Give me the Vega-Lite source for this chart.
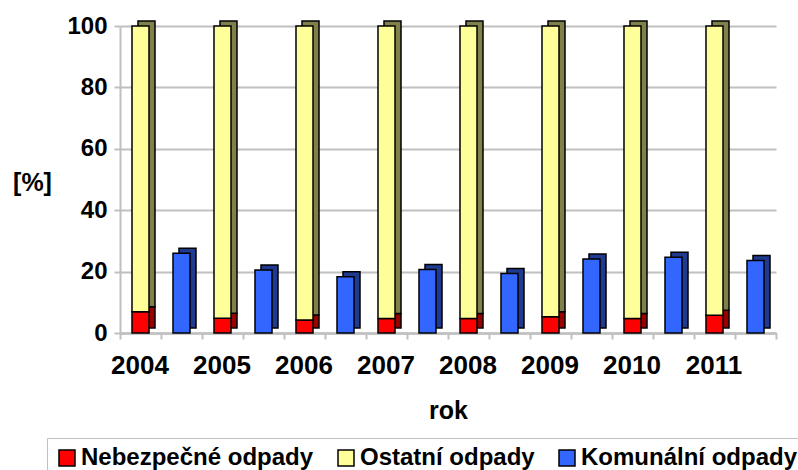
{
  "$schema": "https://vega.github.io/schema/vega-lite/v6.json",
  "width": 656,
  "height": 307,
  "autosize": "none",
  "padding": {"left": 120, "top": 26, "right": 22, "bottom": 137},
  "config": {"font": "Liberation Sans", "view": {"stroke": null}},
  "data": {
    "values": [
      {"rok": "2004", "kategorie": "Nebezpečné odpady", "sloupec": "celkem", "hodnota": 6.9},
      {"rok": "2004", "kategorie": "Ostatní odpady", "sloupec": "celkem", "hodnota": 93.1},
      {"rok": "2004", "kategorie": "Komunální odpady", "sloupec": "komunální", "hodnota": 26.0},
      {"rok": "2005", "kategorie": "Nebezpečné odpady", "sloupec": "celkem", "hodnota": 4.8},
      {"rok": "2005", "kategorie": "Ostatní odpady", "sloupec": "celkem", "hodnota": 95.2},
      {"rok": "2005", "kategorie": "Komunální odpady", "sloupec": "komunální", "hodnota": 20.5},
      {"rok": "2006", "kategorie": "Nebezpečné odpady", "sloupec": "celkem", "hodnota": 4.2},
      {"rok": "2006", "kategorie": "Ostatní odpady", "sloupec": "celkem", "hodnota": 95.8},
      {"rok": "2006", "kategorie": "Komunální odpady", "sloupec": "komunální", "hodnota": 18.3},
      {"rok": "2007", "kategorie": "Nebezpečné odpady", "sloupec": "celkem", "hodnota": 4.7},
      {"rok": "2007", "kategorie": "Ostatní odpady", "sloupec": "celkem", "hodnota": 95.3},
      {"rok": "2007", "kategorie": "Komunální odpady", "sloupec": "komunální", "hodnota": 20.7},
      {"rok": "2008", "kategorie": "Nebezpečné odpady", "sloupec": "celkem", "hodnota": 4.7},
      {"rok": "2008", "kategorie": "Ostatní odpady", "sloupec": "celkem", "hodnota": 95.3},
      {"rok": "2008", "kategorie": "Komunální odpady", "sloupec": "komunální", "hodnota": 19.4},
      {"rok": "2009", "kategorie": "Nebezpečné odpady", "sloupec": "celkem", "hodnota": 5.3},
      {"rok": "2009", "kategorie": "Ostatní odpady", "sloupec": "celkem", "hodnota": 94.7},
      {"rok": "2009", "kategorie": "Komunální odpady", "sloupec": "komunální", "hodnota": 24.1},
      {"rok": "2010", "kategorie": "Nebezpečné odpady", "sloupec": "celkem", "hodnota": 4.7},
      {"rok": "2010", "kategorie": "Ostatní odpady", "sloupec": "celkem", "hodnota": 95.3},
      {"rok": "2010", "kategorie": "Komunální odpady", "sloupec": "komunální", "hodnota": 24.7},
      {"rok": "2011", "kategorie": "Nebezpečné odpady", "sloupec": "celkem", "hodnota": 5.8},
      {"rok": "2011", "kategorie": "Ostatní odpady", "sloupec": "celkem", "hodnota": 94.2},
      {"rok": "2011", "kategorie": "Komunální odpady", "sloupec": "komunální", "hodnota": 23.6}
    ]
  },
  "encoding": {
    "y": {
      "field": "hodnota", "type": "quantitative", "stack": "zero", "scale": {"domain": [0, 100]},
      "axis": {"values": [0, 20, 40, 60, 80, 100], "grid": true, "gridColor": "#c0c0c0", "gridWidth": 2,
               "domainColor": "#c0c0c0", "domainWidth": 2, "tickColor": "#c0c0c0", "tickWidth": 2, "tickSize": 6,
               "labelFontSize": 24, "labelFontWeight": "bold", "labelColor": "black", "labelPadding": 7,
               "title": "[%]", "titleAngle": 0, "titleFontSize": 25, "titleFontWeight": "bold",
               "titleX": -88, "titleY": 156, "titleAlign": "center", "titleBaseline": "middle"}
    },
    "order": {"field": "kategorie", "sort": "ascending"}
  },
  "layer": [
    {
      "mark": {"type": "bar", "yOffset": -5, "stroke": "black", "strokeWidth": 1.5},
      "encoding": {
        "x": {
          "field": "rok", "type": "nominal",
          "scale": {"paddingInner": 0, "paddingOuter": 0},
          "axis": {"orient": "bottom", "tickBand": "extent", "labels": false, "title": null,
                   "domainColor": "#c0c0c0", "domainWidth": 2, "tickColor": "#c0c0c0", "tickWidth": 2, "tickSize": 6}
        },
        "xOffset": {"field": "sloupec", "type": "nominal", "sort": ["celkem", "komunální"],
                    "scale": {"paddingInner": 0.585, "paddingOuter": 0.2925, "range": [6, 88]}},
        "color": {
          "field": "kategorie", "type": "nominal", "legend": null,
          "scale": {"domain": ["Nebezpečné odpady", "Ostatní odpady", "Komunální odpady"],
                    "range": ["#990000", "#80804d", "#1f3a8f"]}
        }
      }
    },
    {
      "mark": {"type": "bar", "stroke": "black", "strokeWidth": 1.5},
      "encoding": {
        "x": {
          "field": "rok", "type": "nominal",
          "scale": {"paddingInner": 0, "paddingOuter": 0},
          "axis": {"orient": "bottom", "labelAngle": 0, "labelOffset": -21, "labelFontSize": 26, "labelFontWeight": "bold",
                   "labelColor": "black", "labelPadding": 13, "ticks": true, "tickColor": "#c0c0c0", "tickWidth": 2, "tickSize": 6,
                   "domainColor": "#c0c0c0", "domainWidth": 2,
                   "title": "rok", "titleFontSize": 25, "titleFontWeight": "bold", "titleY": 77, "titleBaseline": "middle"}
        },
        "xOffset": {"field": "sloupec", "type": "nominal", "sort": ["celkem", "komunální"],
                    "scale": {"paddingInner": 0.585, "paddingOuter": 0.2925, "range": [0, 82]}},
        "color": {
          "field": "kategorie", "type": "nominal",
          "scale": {"domain": ["Nebezpečné odpady", "Ostatní odpady", "Komunální odpady"],
                    "range": ["#ff0000", "#ffff99", "#3366ff"]},
          "legend": {
            "orient": "none", "legendX": -73, "legendY": 412, "direction": "horizontal", "title": null,
            "symbolType": "square", "symbolSize": 256, "symbolStrokeColor": "black", "symbolStrokeWidth": 1.5,
            "labelFontSize": 24, "labelFontWeight": "bold", "labelColor": "black", "labelOffset": 2,
            "columnPadding": 20, "padding": 8, "strokeColor": "#c0c0c0", "labelLimit": 400
          }
        }
      }
    }
  ],
  "resolve": {
    "axis": {"x": "independent"},
    "scale": {"xOffset": "independent", "color": "independent"},
    "legend": {"color": "independent"}
  }
}
